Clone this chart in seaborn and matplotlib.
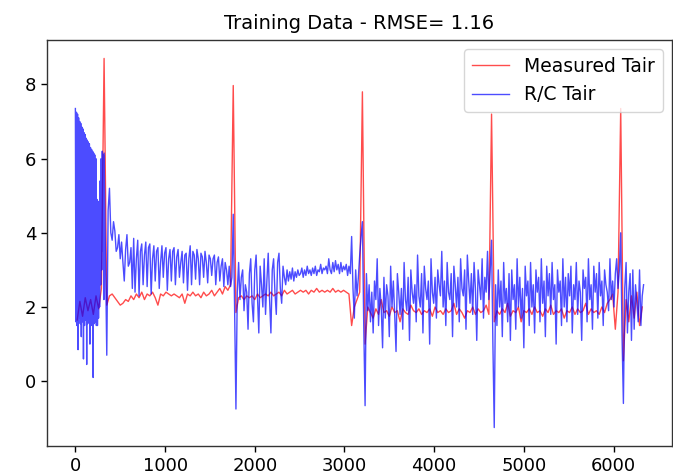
import numpy as np
import pandas as pd
import matplotlib
matplotlib.use("Agg")
import matplotlib.pyplot as plt
import seaborn as sns

title = "Training Data - RMSE= 1.16"
series_names = ["Measured Tair", "R/C Tair"]

# Measured Tair, one value every 30 steps starting at step 20
measured_start, measured_step = 20, 30
measured_tair = [
    1.65, 2.15, 1.75, 2.25, 1.9, 2.2, 1.8, 2.3, 1.95, 2.5,
    8.7, 2.05,
    2.3, 2.35, 2.25, 2.15, 2.05, 2.1, 2.2, 2.15, 2.3, 2.2,
    2.35, 2.25, 2.4, 2.2, 2.35, 2.3, 2.4, 2.25, 2.05, 2.35,
    2.3, 2.4, 2.35, 2.3, 2.35, 2.3, 2.25, 2.35, 2.1, 2.35,
    2.3, 2.4, 2.3, 2.35, 2.25, 2.4, 2.3, 2.35, 2.45, 2.3,
    2.4, 2.5, 2.35, 2.55, 2.45, 2.6,
    7.97, 1.85,
    2.25, 2.3, 2.2, 2.3, 2.25, 2.3, 2.2, 2.35, 2.25, 2.3,
    2.35, 2.3, 2.4, 2.3, 2.35, 2.4, 2.3, 2.45, 2.35, 2.4,
    2.45, 2.35, 2.4, 2.45, 2.4, 2.45, 2.35, 2.45, 2.4, 2.5,
    2.4, 2.45, 2.4, 2.45, 2.4, 2.5, 2.4, 2.45, 2.4, 2.45,
    2.4, 2.35,
    1.5, 2.0, 2.2, 2.4, 7.8, 1.0,
    2.0, 1.85, 1.7, 1.95, 1.8, 2.2, 1.85, 1.9, 1.75, 2.0,
    1.85, 1.9, 1.6, 1.95, 1.85, 1.8, 2.05, 1.9, 1.85, 1.95,
    1.8, 1.9, 1.85, 1.95, 1.75, 2.0, 1.85, 1.9, 1.8, 1.95,
    1.85, 1.9, 2.1, 1.8, 1.95, 1.85, 1.7, 1.9, 1.85, 2.0,
    1.8, 1.95, 1.85, 1.9, 2.05, 1.8,
    7.2, 1.6,
    1.9, 1.8, 1.95, 1.85, 2.1, 1.75, 1.9, 1.85, 2.0, 1.6,
    1.9, 1.85, 1.95, 1.8, 2.0, 1.85, 1.9, 1.75, 1.95, 1.85,
    2.05, 1.8, 1.9, 1.85, 1.95, 1.7, 1.9, 1.85, 2.0, 1.8,
    1.95, 1.85, 1.9, 2.1, 1.8, 1.95, 1.85, 1.9, 1.8, 2.0,
    1.85, 2.1, 2.2,
    2.35, 1.4, 2.4, 7.35, 0.55, 2.2, 1.6, 2.3, 1.7, 2.4, 1.5, 2.0,
]

# R/C Tair: first block every 6 steps, then segments every 15 steps
rc_start_values = [
    7.35, 1.6, 7.25, 1.5, 7.2, 0.85, 7.1, 1.7, 7.0, 1.55,
    6.95, 1.2, 6.85, 1.6, 6.8, 0.6, 6.7, 1.5, 6.65, 1.65,
    6.55, 0.45, 6.5, 1.55, 6.45, 1.6, 6.4, 1.0, 6.3, 1.5,
    6.25, 1.7, 6.2, 0.1, 6.15, 1.55, 6.1, 1.6, 6.0, 1.5,
    4.9, 1.5, 4.85, 1.7, 4.8, 2.0, 5.4, 2.6, 6.0, 3.0,
    6.2, 3.5, 6.1, 2.2,
]
rc_seg_a = [  # from step 320
    6.15, 3.5, 0.7, 4.6, 5.2, 4.0, 3.8, 4.3, 4.05, 3.5,
    3.6, 3.95, 3.3, 3.75, 3.2, 2.7, 3.55, 3.95, 3.1, 3.2,
    3.6, 2.5, 3.85, 2.4, 3.3, 3.8, 2.3, 3.5, 3.7, 2.6,
    3.4, 3.75, 2.55, 3.6, 3.7, 2.35, 3.3, 3.65, 2.7, 3.5,
    3.6, 2.5, 3.2, 3.65, 2.8, 3.45, 3.6, 2.45, 3.3, 3.55,
    2.7, 3.5, 3.6, 2.6, 3.35, 3.55, 2.8, 3.2, 3.5, 2.65,
    3.4, 3.45, 2.45, 3.3, 3.65, 2.6, 3.5, 3.4, 2.75, 3.55,
    3.3, 2.6, 3.45, 3.35, 2.8, 3.5, 3.2, 2.65, 3.4, 3.3,
    2.85, 3.3, 3.4, 2.6, 3.2, 3.35, 2.7, 3.1, 3.3, 2.55,
    3.2, 3.0, 2.6, 3.1, 2.55, 2.8,
]
rc_seg_b = [  # from step 1760
    4.5, 2.0, -0.75, 2.4, 3.2, 2.2, 2.8, 3.0, 1.9, 2.6,
    2.4, 1.4, 2.9, 3.3, 2.1, 1.6, 3.0, 3.4, 2.3, 1.3,
    3.1, 2.6, 2.0, 3.3, 1.8, 2.7, 3.45, 2.2, 1.3, 3.0,
    3.3, 2.4, 1.8, 3.2, 3.45, 2.5, 2.1, 3.1, 2.8, 2.6,
    3.0, 2.7, 2.95, 2.75, 3.05, 2.7, 2.95, 2.8, 3.0, 2.85,
    2.9, 3.05, 2.8, 3.0, 2.85, 3.1, 2.9, 3.0, 2.85, 3.05,
    2.9, 3.1, 2.85, 3.0, 2.95, 3.15, 2.9, 3.05, 3.0, 3.1,
    2.9, 3.3, 3.0, 2.9, 3.2, 2.95, 3.25, 3.0, 3.15, 2.9,
    3.2, 2.95, 3.1, 3.0, 3.15, 2.85, 3.1, 2.9,
]
rc_seg_c = [  # from step 3080
    3.9, 2.5, 1.7, 3.0, 2.3, 2.8, 3.4, 3.9, 4.3, 1.5,
    -0.66, 2.9, 1.9, 2.6, 1.6, 2.4, 1.3, 2.7, 2.2, 3.3,
    1.5, 2.5, 2.0, 0.9, 2.8, 1.7, 2.6, 2.3, 1.2, 3.1,
    2.0, 2.7, 1.8, 0.8, 2.9, 2.4, 1.8, 2.5, 1.4, 3.2,
    2.2, 1.9, 2.8, 1.1, 3.0, 2.4, 2.1, 2.6, 1.6, 3.4,
    2.3, 2.0, 2.9, 1.3, 3.1, 2.5, 2.2, 2.7, 1.0, 3.3,
    2.4, 2.1, 2.8, 1.7, 3.0, 2.6, 2.3, 3.5, 2.0, 2.7,
    1.5, 3.2, 2.4, 2.2, 2.9, 1.2, 3.1, 2.6, 2.0, 2.8,
    1.6, 3.3, 2.5, 2.3, 3.0, 1.4, 3.4, 2.7, 2.1, 2.9,
    1.8, 3.2, 2.5, 1.1, 3.0, 2.6, 2.2, 3.3, 1.7, 2.8,
    2.4, 3.5, 2.2, 3.0,
]
rc_seg_d = [  # from step 4640
    3.8, 1.0, -1.25, 2.6, 1.5, 3.0, 2.0, 2.7, 1.2, 3.2,
    2.1, 2.5, 1.6, 2.9, 1.1, 3.0, 2.2, 2.6, 1.4, 3.3,
    2.0, 2.8, 1.7, 2.5, 0.9, 3.1, 2.3, 2.7, 1.5, 3.2,
    2.0, 2.6, 1.3, 3.0, 2.4, 2.8, 1.6, 3.3, 2.1, 2.7,
    1.2, 3.1, 2.3, 2.9, 1.8, 3.2, 2.2, 2.6, 1.0, 3.0,
    2.4, 2.7, 1.5, 3.3, 2.0, 2.8, 1.6, 2.9, 2.3, 3.1,
    1.3, 2.6, 2.2, 3.2, 1.8, 2.7, 2.4, 1.1, 3.0, 2.5,
    2.8, 1.6, 3.3, 2.2, 2.6, 1.4, 3.1, 2.4, 2.9, 1.7,
    3.2, 2.3, 2.7, 1.5, 3.0, 2.6, 2.4, 1.9, 3.3, 2.2,
    2.7, 2.0, 2.9, 3.3, 2.5, 3.0,
]
rc_seg_e = [  # from step 6080
    4.0, 1.2, -0.6, 2.5, 3.2, 1.3, 2.4, 2.9, 1.1, 3.0,
    1.4, 2.6, 2.1, 1.6, 3.0, 1.5, 2.3, 2.6,
]

measured_df = pd.DataFrame({
    "step": measured_start + measured_step * np.arange(len(measured_tair)),
    "Tair": measured_tair,
})
rc_parts = [(0, 6, rc_start_values), (320, 15, rc_seg_a), (1760, 15, rc_seg_b),
            (3080, 15, rc_seg_c), (4640, 15, rc_seg_d), (6080, 15, rc_seg_e)]
rc_df = pd.concat([
    pd.DataFrame({"step": s0 + ds * np.arange(len(v)), "Tair": v})
    for s0, ds, v in rc_parts
], ignore_index=True)

plt.rcParams["font.family"] = ["DejaVu Sans"]

fig, ax = plt.subplots(figsize=(6.73, 4.76), dpi=100)
fig.subplots_adjust(left=0.0698, right=0.9985, bottom=0.063, top=0.916)

sns.lineplot(data=measured_df, x="step", y="Tair", ax=ax, color="red",
             alpha=0.7, linewidth=1.0, label=series_names[0], errorbar=None)
sns.lineplot(data=rc_df, x="step", y="Tair", ax=ax, color="blue",
             alpha=0.7, linewidth=1.0, label=series_names[1], errorbar=None)

ax.set_title(title, fontsize=14, pad=8)
ax.set_xlabel("")
ax.set_ylabel("")
ax.set_xticks([0, 1000, 2000, 3000, 4000, 5000, 6000])
ax.set_yticks([0, 2, 4, 6, 8])
ax.tick_params(labelsize=13, length=4.2, width=1.0)
for s in ax.spines.values():
    s.set_linewidth(1.0)
    s.set_color("#333333")
ax.legend(loc="upper right", fontsize=13.5)

fig.savefig("out.png", dpi=100)
